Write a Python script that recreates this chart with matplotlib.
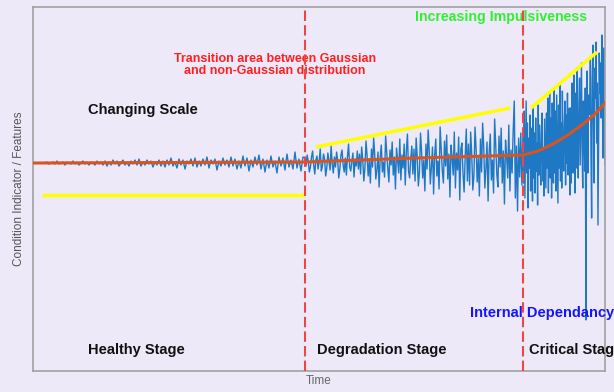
import matplotlib
matplotlib.use("Agg")
import matplotlib.pyplot as plt
import numpy as np

plt.rcParams["font.family"] = ["Liberation Sans", "DejaVu Sans"]

# stage boundaries (time units)
t_start, t_trans, t_crit, t_end = 12, 272, 490, 572

# signal, offset from baseline
healthy = [0, 1, -1, 0, 1, -1, 2, -1, 0, 1, -2, 1, 0, -1, 2, -1, 1, -2, 0, 2, -1, 1, -2, 1, 0, -2, 2, -1, 1, -2,
           2, -3, 1, -2, 3, -1, 2, -3, 0, 3, -2, 1, -3, 2, -1, 3, -2, 4, -3, 1, -2, 3, -1, 2, -4, 1, -2, 3, -3, 2,
           -4, 3, -2, 5, -3, 1, -5, 4, -2, 3, -6, 2, -1, 4, -3, 5, -4, 2, -3, 4, -2, 6, -5, 3, -1, 4, -7, 2, -3, 5,
           -2, 3, -4, 6, -3,
           4, -6, 2, -5, 7, -3, 5, -8, 3, -4, 6, -2, 8, -6, 4, -9, 3, -5, 7, -4, 2, -10, 6, -3, 5, -7, 9, -4, 3, -6,
           11, -5, 4, -8, 6]
degradation = [5, -3, 8, 2, -9, -4, 6, 12, -2, -11, 3, 7, -6, 1, 14, -8, -3, 9, 4, -13, -5, 10, 2, -7, 17,
               -1, -10, 6, -4, 11, 3, -15, -6, 8, 13, -2, -9, 5, -12, 7, 19, -4, -8, 2, 10, -14, 4, -3, 12, -6,
               9, -11, 16, 3, -18, -5, 22, 7, -13, 2, -20, 14, -4, 25, 8, -16, -7, 11, -24, 5, 18, -9, 1, -14, 27,
               10, -6, -19, 13, -2, 21, -12, 6, -26, 15, 3, -10, 24, -17, 8, -5, 19, -22, 12, 29, -8, -15, 4, 17, -11,
               14, -18, 25, 6, -23, -9, 30, 11, -15, 3, -28, 19, -6, 33, 12, -21, -4, 16, -31, 8, 24, -13, 2, -26, 36,
               15, -8, -20, 22, -3, 28, -16, 9, -34, 18, 5, -12, 31, -25, 10, -7, 26, -37, 14, 20, -11, -29, 7, 34, -18,
               19, -22, 31, 8, -27, -12, 36, 14, -19, 5, -33, 24, -9, 40, 16, -25, -6, 21, -38, 11, 29, -17, 3, -30, 44,
               18, -11, -24, 27, -4, 35, -20, 12, -41, 23, 7, -15, 38, -28, 13, -10, 32, 62, -35, 17, -48, 25, -14, 30, -22]
critical = [30, -20, 52, -35, 15, 62, -10, 40, -45, 25, -5, 48, -28, 35, 8, -38, 55, -15, 30, -30, 45, -8, 20, -42,
            58, -12, 38, 4, -22, 27, 50, -18, 12, -33, 44,
            10, -25, 50, -5, 65, -30, 28, 70, -15, 45, -35, 60, 5, -20, 75, -10, 52, -28, 68, 18, -40, 58, -5, 78,
            -18, 40, -25, 72, 12, -8, 36, 62, -22, 48, 0, 70, -12, 30, 55, -32,
            55, -20, 80, 25, -10, 88, 35, -30, 70, -5, 95, 20, -15, 60, 85, -2, 45, 100, 15, -25, 62, 40, -8, 75,
            -157, 30, 92, -10, 68, 48,
            50, 105, 10, -55, 85, 118, 40, -20, 95, 65, 121, 20, 80, -62, 30, 110, 70, 100, 45, 128, 60, 5, 115, 90, -2]

# smooth trend (red curve)
trend_t = [0, 272, 382, 490, 505, 520, 535, 550, 562, 572]
trend_y = [0, 1, 5, 8, 12, 19, 28, 39, 49, 60]

# yellow guide lines: (t0, y0, t1, y1)
guides = [(9, -32, 272, -32), (283, 16, 477, 55), (498, 55, 564, 111)]

bg = "#eee9f8"
fig = plt.figure(figsize=(6.14, 3.92), dpi=100, facecolor=bg)
ax = fig.add_axes([0.0537, 0.0536, 0.9316, 0.9284], facecolor=bg)

t_h = np.linspace(t_start, t_trans, len(healthy), endpoint=False)
t_d = np.linspace(t_trans, t_crit, len(degradation), endpoint=False)
t_c = np.linspace(t_crit, t_end, len(critical))
sig_t = np.concatenate([t_h, t_d, t_c])
sig_y = np.concatenate([healthy, degradation, critical])

ax.plot(sig_t, sig_y, color="#1f78c4", lw=1.0, zorder=2)
ax.plot(trend_t, trend_y, color="#d9541e", lw=2.2, zorder=3)
for t0, y0, t1, y1 in guides:
    ax.plot([t0, t1], [y0, y1], color="#ffff00", lw=2.5, zorder=4, solid_capstyle="butt")

for tx in (t_trans, t_crit):
    ax.axvline(tx, color="#f04545", lw=1.5, ls=(0, (5, 2)), zorder=5)

ax.set_xlim(0, 572)
ax.set_ylim(-208, 156)
ax.set_xticks([])
ax.set_yticks([])
for s in ax.spines.values():
    s.set_color("#a0a0a0")
    s.set_linewidth(1.2)

ax.set_xlabel("Time", color="#666666", fontsize=8.5, labelpad=3)
ax.set_ylabel("Condition Indicator / Features", color="#555555", fontsize=8.5, labelpad=6)

bold = dict(fontweight="bold", fontsize=10.5, va="center")
ax.text(55, 53, "Changing Scale", color="#111111", **bold)
ax.text(242, 98, "Transition area between Gaussian\nand non-Gaussian distribution", color="#ff2020",
        fontweight="bold", fontsize=9, ha="center", va="center", linespacing=1.0)
ax.text(382, 146, "Increasing Impulsiveness", color="#33ee33", fontweight="bold", fontsize=10.2, va="center")
ax.text(437, -150, "Internal Dependancy", color="#1414ff", **bold)
ax.text(55, -187, "Healthy Stage", color="#111111", **bold)
ax.text(284, -187, "Degradation Stage", color="#111111", **bold)
ax.text(496, -187, "Critical Stage", color="#111111", clip_on=False, **bold)

fig.savefig("out.png", dpi=100, facecolor=bg)
